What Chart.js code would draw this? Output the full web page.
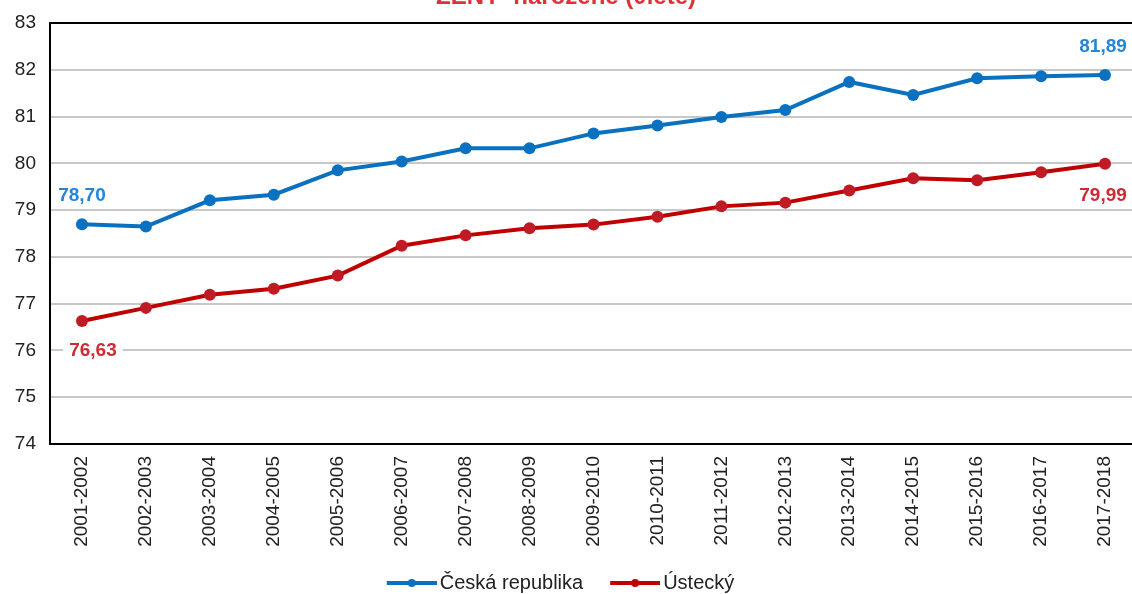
<!DOCTYPE html>
<html>
<head>
<meta charset="utf-8">
<script src="https://cdn.jsdelivr.net/npm/chart.js@4"></script>
<style>
    html, body { margin: 0; padding: 0; background: #fff; overflow: hidden; }
    #wrap { position: relative; width: 1132px; height: 594px; }
    #title {
        position: absolute; left: 0; width: 1132px; top: -16px;
        text-align: center; font: bold 24px "Liberation Sans", Arial, sans-serif;
        line-height: 24px; color: #e0303a;
    }
</style>
</head>
<body>
<div id="wrap">
    <div id="title">ŽENY- narozené (0leté)</div>
    <canvas id="chart" width="1132" height="594"></canvas>
</div>
<script>
// Data
const periods = ['2001-2002', '2002-2003', '2003-2004', '2004-2005', '2005-2006', '2006-2007',
    '2007-2008', '2008-2009', '2009-2010', '2010-2011', '2011-2012', '2012-2013',
    '2013-2014', '2014-2015', '2015-2016', '2016-2017', '2017-2018'];
const ceskaRepublika = [78.70, 78.65, 79.21, 79.33, 79.85, 80.04, 80.32, 80.32, 80.64, 80.81,
    80.99, 81.14, 81.74, 81.46, 81.82, 81.86, 81.89];
const ustecky = [76.63, 76.91, 77.19, 77.32, 77.60, 78.24, 78.46, 78.61, 78.69, 78.86,
    79.08, 79.16, 79.42, 79.68, 79.64, 79.81, 79.99];
const yTicks = [74, 75, 76, 77, 78, 79, 80, 81, 82, 83];

const BLUE = '#0a70c0';
const RED = '#c00000';
const FONT = "'Liberation Sans', Arial, sans-serif";

// legend marker: line with a dot, drawn in the right part of a wider canvas
// so that it ends just before the label text
const MARK_W = 66;
function legendMarker(color) {
    const c = document.createElement('canvas');
    c.width = MARK_W + 14; c.height = 10;
    const g = c.getContext('2d');
    const x0 = c.width - 50;
    g.strokeStyle = color; g.lineWidth = 4;
    g.beginPath(); g.moveTo(x0, 5); g.lineTo(c.width, 5); g.stroke();
    g.fillStyle = color;
    g.beginPath(); g.arc(x0 + 25, 5, 4, 0, Math.PI * 2); g.fill();
    return c;
}
const markers = [legendMarker(BLUE), legendMarker(RED)];

// the original plot runs a few px past the right edge; legend sits lower and a bit left
const nudge = {
    id: 'nudge',
    afterLayout(chart) {
        const x = chart.scales.x;
        chart.chartArea.right += 5;
        chart.chartArea.width += 5;
        x.right += 5;
        x.width += 5;
        x.configure();
        const lg = chart.legend;
        const dy = 583 - (lg.top + 14);
        lg.top += dy; lg.bottom += dy;
        lg.left -= 17; lg.right -= 17;
    }
};

// black frame around the plot
const frame = {
    id: 'frame',
    beforeDatasetsDraw(chart) {
        const { ctx, chartArea: a } = chart;
        ctx.save();
        ctx.strokeStyle = '#000';
        ctx.lineWidth = 2;
        ctx.strokeRect(a.left, a.top, a.right - a.left, a.bottom - a.top);
        ctx.restore();
    }
};

// value labels at the first and last points
const endLabels = {
    id: 'endLabels',
    afterDatasetsDraw(chart) {
        const ctx = chart.ctx;
        const offsets = [[-28, -28], [30, 32]];
        const dx = [[0, -2], [11, -2]];
        const colors = ['#2585d6', '#d02a35'];
        ctx.save();
        ctx.font = 'bold 19px ' + FONT;
        ctx.textAlign = 'center';
        ctx.textBaseline = 'middle';
        chart.data.datasets.forEach((ds, di) => {
            const meta = chart.getDatasetMeta(di);
            [0, ds.data.length - 1].forEach((idx, k) => {
                const p = meta.data[idx];
                const txt = ds.data[idx].toFixed(2).replace('.', ',');
                const x = p.x + dx[di][k];
                const y = p.y + offsets[di][k];
                const w = ctx.measureText(txt).width;
                ctx.fillStyle = '#fff';
                ctx.fillRect(x - w / 2 - 6, y - 10, w + 12, 20);
                ctx.fillStyle = colors[di];
                ctx.fillText(txt, x, y);
            });
        });
        ctx.restore();
    }
};

new Chart(document.getElementById('chart'), {
    type: 'line',
    data: {
        labels: periods,
        datasets: [
            {
                label: 'Česká republika',
                data: ceskaRepublika,
                borderColor: BLUE,
                backgroundColor: BLUE,
                borderWidth: 4,
                pointRadius: 6,
                pointBorderWidth: 0,
                tension: 0
            },
            {
                label: 'Ústecký',
                data: ustecky,
                borderColor: RED,
                backgroundColor: '#c01a25',
                borderWidth: 4,
                pointRadius: 6,
                pointBorderWidth: 0,
                tension: 0
            }
        ]
    },
    options: {
        responsive: false,
        animation: false,
        layout: { autoPadding: false, padding: { top: 23, right: 0, left: 0, bottom: 0 } },
        scales: {
            y: {
                min: 74, max: 83,
                afterBuildTicks: s => { s.ticks = yTicks.map(v => ({ value: v })); },
                afterFit: s => { s.width = 50; s.paddingTop = 0; s.paddingBottom = 0; },
                grid: { color: '#c8c8c8', lineWidth: 2, drawTicks: false },
                border: { display: false },
                ticks: { color: '#222', font: { family: FONT, size: 19 }, padding: 14 }
            },
            x: {
                offset: true,
                afterFit: s => { s.height = 116; s.paddingLeft = 0; s.paddingRight = 0; },
                grid: { display: false },
                border: { display: false },
                ticks: {
                    color: '#222', font: { family: FONT, size: 19 },
                    minRotation: 90, maxRotation: 90, padding: 4, autoSkip: false
                }
            }
        },
        plugins: {
            legend: {
                position: 'bottom',
                labels: {
                    color: '#222',
                    font: { family: FONT, size: 20 },
                    usePointStyle: true,
                    pointStyleWidth: MARK_W,
                    padding: 4,
                    generateLabels(chart) {
                        const items = Chart.defaults.plugins.legend.labels.generateLabels(chart);
                        items.forEach((it, i) => { it.pointStyle = markers[i]; });
                        return items;
                    }
                }
            },
            tooltip: { enabled: false }
        }
    },
    plugins: [nudge, frame, endLabels]
});
</script>
</body>
</html>
